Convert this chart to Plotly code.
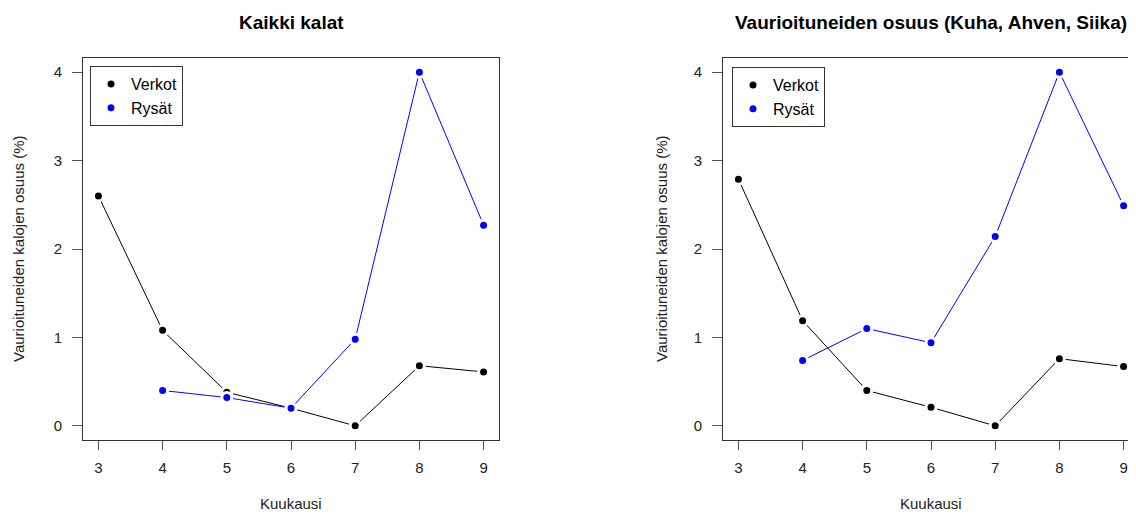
import plotly.graph_objects as go

# kuukaudet ja vaurioituneiden osuudet (%)
months = [3, 4, 5, 6, 7, 8, 9]
kaikki_verkot = [2.60, 1.08, 0.38, 0.20, 0.00, 0.68, 0.61]
kaikki_rysat = [None, 0.40, 0.32, 0.20, 0.98, 4.00, 2.27]
kav_verkot = [2.79, 1.19, 0.40, 0.21, 0.00, 0.76, 0.67]
kav_rysat = [None, 0.74, 1.10, 0.94, 2.14, 4.00, 2.49]
y_ticks = [0, 1, 2, 3, 4]

titles = ["Kaikki kalat", "Vaurioituneiden osuus (Kuha, Ahven, Siika)"]
x_title = "Kuukausi"
y_title = "Vaurioituneiden kalojen osuus (%)"
names = ["Verkot", "Rysät"]
colors = ["#000000", "#0000ff"]

# sivun body-marginaali (8px) vähennetään, jotta kuva osuu ikkunaan kohdalleen
OFF = 8
W, H = 1136 - OFF, 513 - OFF
FONT = "Liberation Sans, Arial, sans-serif"


def px(x):
    return (x - OFF) / W


def py(y):
    return (H - (y - OFF)) / H


fig = go.Figure()

panels = [(kaikki_verkot, kaikki_rysat, "x", "y", "legend"),
          (kav_verkot, kav_rysat, "x2", "y2", "legend2")]
for verkot, rysat, xa, ya, lg in panels:
    for name, vals, col in zip(names, [verkot, rysat], colors):
        # R type="b": pisteet, viiva katkeaa pisteen kohdalla -> valkoinen reunus
        fig.add_scatter(
            x=months, y=vals, mode="lines+markers", xaxis=xa, yaxis=ya,
            line=dict(color=col, width=1),
            marker=dict(color=col, size=10, line=dict(color="white", width=3)),
            showlegend=False, connectgaps=False, cliponaxis=False,
        )
    for name, col in zip(names, colors):
        fig.add_scatter(
            x=[None], y=[None], mode="markers", xaxis=xa, yaxis=ya, name=name,
            marker=dict(color=col, size=7), legend=lg,
        )

axis_common = dict(
    showgrid=False, zeroline=False, showline=True, linecolor="#333333", linewidth=1,
    ticks="outside", tickcolor="#555555", tickwidth=1,
    tickfont=dict(family=FONT, size=15, color="#222222"),
)
unit = 416 / 6.48
xr_right = 2.76 + (1136 - 723) / unit

fig.update_layout(
    width=W, height=H,
    margin=dict(l=0, r=0, t=0, b=0),
    paper_bgcolor="white", plot_bgcolor="white",
    font=dict(family=FONT, color="#222222"),
    xaxis=dict(domain=[px(83), px(499)], range=[2.76, 9.24], tickvals=months,
               ticklen=9, ticklabelstandoff=5, mirror=True, anchor="y", **axis_common),
    yaxis=dict(domain=[py(440), py(58)], range=[-0.16, 4.16], tickvals=y_ticks,
               ticklen=10, ticklabelstandoff=7, mirror=True, anchor="x", **axis_common),
    xaxis2=dict(domain=[px(723), 1.0], range=[2.76, xr_right], tickvals=months,
                ticklen=9, ticklabelstandoff=5, mirror=True, anchor="y2", **axis_common),
    yaxis2=dict(domain=[py(440), py(58)], range=[-0.16, 4.16], tickvals=y_ticks,
                ticklen=10, ticklabelstandoff=7, mirror=False, anchor="x2", **axis_common),
    legend=dict(x=px(90), y=py(66), xanchor="left", yanchor="top",
                bordercolor="#333333", borderwidth=1, bgcolor="white",
                font=dict(family=FONT, size=16, color="#000000"),
                tracegroupgap=0, itemclick=False),
    legend2=dict(x=px(732), y=py(67), xanchor="left", yanchor="top",
                 bordercolor="#333333", borderwidth=1, bgcolor="white",
                 font=dict(family=FONT, size=16, color="#000000"),
                 tracegroupgap=0, itemclick=False),
)

# otsikot ja akselien nimet
centers = [(83 + 499) / 2, (723 + 1139) / 2]
ylab_x = [18, 661]
ann = dict(xref="paper", yref="paper", showarrow=False, xanchor="center", yanchor="middle")
for cx, title, yx in zip(centers, titles, ylab_x):
    fig.add_annotation(x=px(cx), y=py(22), text=f"<b>{title}</b>",
                       font=dict(family=FONT, size=19, color="#000000"), **ann)
    fig.add_annotation(x=px(cx), y=py(503), text=x_title,
                       font=dict(family=FONT, size=15, color="#222222"), **ann)
    fig.add_annotation(x=px(yx), y=py(249), text=y_title, textangle=-90,
                       font=dict(family=FONT, size=15, color="#222222"), **ann)

fig.write_html("out.html")
